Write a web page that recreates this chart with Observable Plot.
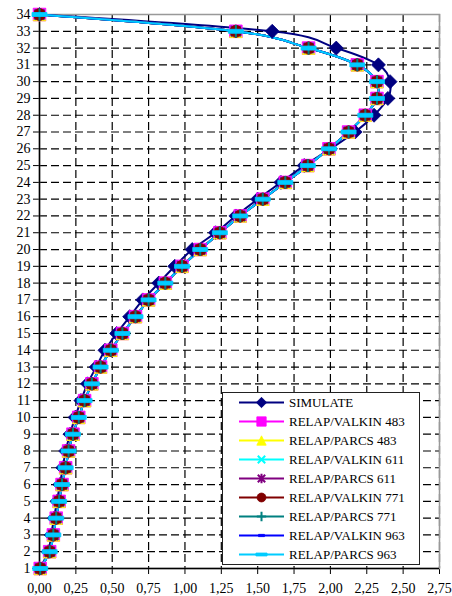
<!DOCTYPE html>
<html><head><meta charset="utf-8">
<script src="https://cdn.jsdelivr.net/npm/d3@7"></script>
<script src="https://cdn.jsdelivr.net/npm/@observablehq/plot@0.6"></script>
<style>
body{margin:0;background:#fff;}
#wrap{position:relative;width:452px;height:596px;font-family:'Liberation Serif', serif;}
#wrap svg text{font-family:'Liberation Serif', serif !important;}
#legend{position:absolute;left:222px;top:392px;width:198px;height:173px;border:1px solid #222;background:#fff;box-sizing:border-box;}
#legend svg{display:block;}
</style></head><body><div id="wrap"></div>
<script>
// Layer numbers (vertical axis)
const layers = [1,2,3,4,5,6,7,8,9,10,11,12,13,14,15,16,17,18,19,20,21,22,23,24,25,26,27,28,29,30,31,32,33,34];
// SIMULATE values per layer
const simulate = [0.00,0.06,0.08,0.10,0.12,0.14,0.16,0.18,0.21,0.245,0.285,0.33,0.39,0.45,0.53,0.62,0.71,0.82,0.93,1.05,1.21,1.35,1.50,1.66,1.82,2.00,2.17,2.30,2.395,2.41,2.33,2.04,1.60,0.00];
// RELAP results (all eight RELAP curves overlap in the picture)
const relap = [0.005,0.07,0.095,0.115,0.135,0.155,0.18,0.20,0.23,0.27,0.31,0.36,0.42,0.49,0.57,0.66,0.75,0.865,0.98,1.105,1.24,1.38,1.535,1.69,1.845,1.99,2.125,2.24,2.32,2.32,2.185,1.85,1.35,0.00];
const relapValkin483 = relap, relapParcs483 = relap, relapValkin611 = relap, relapParcs611 = relap;
const relapValkin771 = relap, relapParcs771 = relap, relapValkin963 = relap, relapParcs963 = relap;
const seriesNames = ["SIMULATE","RELAP/VALKIN 483","RELAP/PARCS 483","RELAP/VALKIN 611","RELAP/PARCS 611","RELAP/VALKIN 771","RELAP/PARCS 771","RELAP/VALKIN 963","RELAP/PARCS 963"];
const seriesValues = [simulate,relapValkin483,relapParcs483,relapValkin611,relapParcs611,relapValkin771,relapParcs771,relapValkin963,relapParcs963];
// Tick labels
const xTicks = [0,0.25,0.5,0.75,1,1.25,1.5,1.75,2,2.25,2.5,2.75];
const yTicks = layers;

// custom marker shapes (k = 1 when r = 6)
const mk = fn => ({draw(c, size){ fn(c, Math.sqrt(size / Math.PI) / 6); }});
const symDiamond = mk((c,k)=>{const h=7*k; c.moveTo(0,-h);c.lineTo(h,0);c.lineTo(0,h);c.lineTo(-h,0);c.closePath();});
const symSquare = mk((c,k)=>{const h=6.3*k; c.rect(-h,-h,2*h,2*h);});
const symTriangle = mk((c,k)=>{const h=6.3*k; c.moveTo(0,-h);c.lineTo(h,h);c.lineTo(-h,h);c.closePath();});
const symTimes = mk((c,k)=>{const h=5*k; c.moveTo(-h,-h);c.lineTo(h,h);c.moveTo(h,-h);c.lineTo(-h,h);});
const symAsterisk = mk((c,k)=>{const h=5*k; c.moveTo(-h,-h);c.lineTo(h,h);c.moveTo(h,-h);c.lineTo(-h,h);c.moveTo(0,-h*1.3);c.lineTo(0,h*1.3);});
const symCircle = mk((c,k)=>{const r=6*k; c.moveTo(r,0); c.arc(0,0,r,0,2*Math.PI); c.closePath();});
const symPlus = mk((c,k)=>{const h=6.3*k; c.moveTo(-h,0);c.lineTo(h,0);c.moveTo(0,-h);c.lineTo(0,h);});
const symDashSmall = mk((c,k)=>{c.rect(-4*k,-1.5*k,8*k,3*k);});
const symDashBig = mk((c,k)=>{c.rect(-7.5*k,-2*k,15*k,4*k);});

const styles = [
  {color:"#000080", sym:symDiamond, filled:true},
  {color:"#FF00FF", sym:symSquare, filled:true},
  {color:"#FFFF00", sym:symTriangle, filled:true},
  {color:"#00FFFF", sym:symTimes, filled:false},
  {color:"#800080", sym:symAsterisk, filled:false},
  {color:"#800000", sym:symCircle, filled:true},
  {color:"#008080", sym:symPlus, filled:false},
  {color:"#0000FF", sym:symDashSmall, filled:true},
  {color:"#00CCFF", sym:symDashBig, filled:true}
];

const rows = seriesNames.map((name,i)=> layers.map((layer,j)=>({series:name, layer, value:seriesValues[i][j]})));

const seriesMarks = [];
rows.forEach((data,i)=>{
  const s = styles[i];
  seriesMarks.push(Plot.line(data,{x:"value",y:"layer",stroke:s.color,strokeWidth:2,curve:"cardinal",tension:0}));
});
rows.forEach((data,i)=>{
  const s = styles[i];
  seriesMarks.push(Plot.dot(data,{x:"value",y:"layer",r:6,symbol:()=>s.sym,
    fill: s.filled ? s.color : "none", stroke:s.color, strokeWidth: s.filled ? 0.8 : 2}));
});

const fmt = d => d.toFixed(2).replace(".", ",");
const chart = Plot.plot({
  width:452, height:596,
  marginLeft:39, marginRight:13, marginTop:14, marginBottom:28,
  style:{fontFamily:"Liberation Serif, serif", fontSize:"14px", color:"#000", background:"#fff"},
  x:{domain:[0,2.75], ticks:xTicks, tickFormat:fmt, tickSize:6, tickPadding:9, label:null},
  y:{domain:[1,34], ticks:yTicks, tickFormat:d=>String(d), tickSize:6, tickPadding:3, label:null},
  marks:[
    Plot.ruleX(xTicks.slice(1), {stroke:"#000", strokeWidth:1.2, strokeDasharray:"8,4"}),
    Plot.ruleY(yTicks.slice(1), {stroke:"#000", strokeWidth:1.2, strokeDasharray:"8,4"}),
    Plot.frame({stroke:"#999", strokeWidth:1.5}),
    Plot.ruleX([0], {stroke:"#000", strokeWidth:1.5}),
    Plot.ruleY([1], {stroke:"#000", strokeWidth:1.5}),
    ...seriesMarks
  ]
});
const wrap = document.getElementById("wrap");
wrap.appendChild(chart);

// legend inside the plot area
const leg = document.createElement("div");
leg.id = "legend";
wrap.appendChild(leg);
const lsvg = d3.select(leg).append("svg").attr("width",196).attr("height",171);
seriesNames.forEach((name,i)=>{
  const s = styles[i];
  const g = lsvg.append("g").attr("transform",`translate(0,${9.5 + i*19})`);
  g.append("line").attr("x1",16).attr("x2",61).attr("y1",0).attr("y2",0).attr("stroke",s.color).attr("stroke-width",2);
  g.append("path").attr("transform","translate(38.5,0)")
    .attr("d", d3.symbol().type(s.sym).size(36*Math.PI*0.55)())
    .attr("fill", s.filled ? s.color : "none").attr("stroke", s.color).attr("stroke-width", s.filled?0.8:2);
  g.append("text").attr("x",66).attr("y",0).attr("dy","0.35em")
    .attr("font-size",13).attr("fill","#000").text(name);
});
</script>
</body></html>
